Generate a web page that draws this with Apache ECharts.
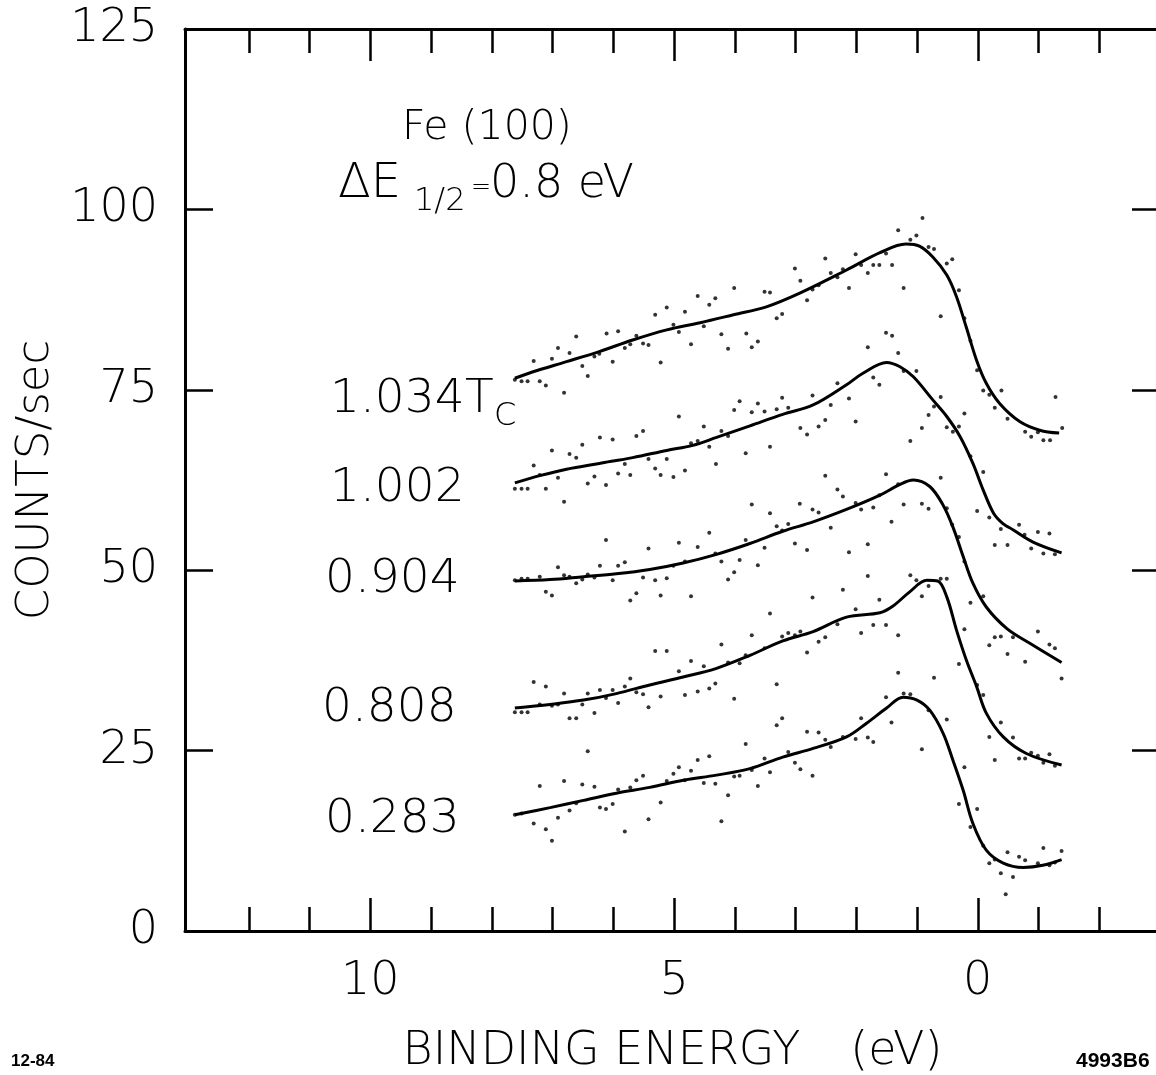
<!DOCTYPE html>
<html>
<head>
<meta charset="utf-8">
<script src="https://cdn.jsdelivr.net/npm/echarts@6/dist/echarts.min.js"></script>
<style>
  html, body { margin: 0; padding: 0; background: #fff; }
  #chart { width: 1156px; height: 1075px; }
</style>
</head>
<body>
<div id="chart"></div>
<script>
// binding energy ticks (eV)
var energyTicks = [-3, -2, -1, 0, 1, 2, 3, 4, 5, 6, 7, 8, 9, 10, 11, 12];
var energyMajor = [0, 5, 10];

// fitted curves [binding energy (eV), counts/sec]
var fit1034 = [[7.62,76.6],[7.32,77.5],[6.77,78.9],[6.23,80.3],[5.68,81.9],[5.12,83.3],[4.57,84.3],[4.02,85.4],[3.48,86.5],[2.93,88.4],[2.16,91.6],[1.61,94.0],[1.18,95.2],[0.96,94.9],[0.74,93.4],[0.51,90.9],[0.35,87.9],[0.19,83.7],[0.02,79.1],[-0.14,75.9],[-0.36,73.1],[-0.69,70.6],[-1.02,69.4],[-1.34,69.0]];
var fit1002 = [[7.62,62.1],[7.21,63.1],[6.77,64.0],[6.23,64.8],[5.68,65.6],[5.12,66.6],[4.69,67.3],[4.30,68.4],[3.75,70.0],[3.21,71.6],[2.71,72.9],[2.16,75.7],[1.89,77.3],[1.50,78.8],[1.28,78.2],[1.06,76.8],[0.74,73.6],[0.51,71.3],[0.29,68.5],[0.08,64.8],[-0.09,61.1],[-0.26,57.9],[-0.41,56.5],[-0.58,55.6],[-0.91,53.9],[-1.38,52.4]];
var fit0904 = [[7.62,48.5],[7.04,48.7],[6.49,49.1],[5.95,49.5],[5.40,50.1],[4.85,51.0],[4.30,52.2],[3.75,53.7],[3.21,55.4],[2.71,56.7],[2.11,58.6],[1.61,60.4],[1.28,61.9],[1.06,62.5],[0.79,61.6],[0.57,59.0],[0.41,56.0],[0.24,51.9],[0.08,48.2],[-0.14,44.9],[-0.48,41.9],[-0.85,39.9],[-1.38,37.2]];
var fit0808 = [[7.62,30.9],[7.04,31.4],[6.49,32.0],[5.95,32.9],[5.40,34.1],[4.85,35.2],[4.30,36.4],[3.75,38.2],[3.21,40.2],[2.71,41.5],[2.16,43.5],[1.61,44.1],[1.40,45.0],[1.12,47.0],[0.84,48.6],[0.66,48.5],[0.51,46.3],[0.35,41.7],[0.19,37.6],[0.02,33.9],[-0.14,30.2],[-0.42,26.9],[-0.80,24.6],[-1.38,23.0]];
var fit0283 = [[7.62,16.1],[7.04,17.1],[6.49,18.1],[5.95,19.1],[5.40,19.9],[4.85,20.9],[4.30,21.6],[3.75,22.5],[3.21,24.1],[2.71,25.3],[2.16,26.9],[1.83,28.8],[1.50,30.9],[1.23,32.4],[1.00,32.0],[0.79,30.6],[0.57,27.4],[0.41,23.7],[0.24,19.5],[0.08,14.9],[-0.14,11.2],[-0.42,9.4],[-0.75,8.8],[-1.07,9.1],[-1.38,9.9]];

// measured points
var dots1034 = [[3.01,91.8],[7.62,76.4],[7.51,76.2],[7.41,76.2],[7.31,79.0],[7.21,76.2],[7.11,75.6],[7.01,79.3],[6.91,80.8],[6.81,74.6],[6.72,80.1],[6.61,82.4],[6.51,78.3],[6.42,76.9],[6.31,79.6],[6.23,80.0],[6.11,82.8],[6.01,78.9],[5.92,83.1],[5.81,80.8],[5.72,81.3],[5.62,82.5],[5.51,81.4],[5.42,81.2],[5.31,85.4],[5.22,78.8],[5.12,86.4],[5.01,84.0],[4.92,83.0],[4.82,85.8],[4.72,81.3],[4.61,88.0],[4.51,83.8],[4.42,86.8],[4.32,87.7],[4.22,82.7],[4.11,80.7],[4.01,89.1],[3.81,82.8],[3.72,80.9],[3.62,81.7],[3.51,88.6],[3.42,88.5],[3.31,84.9],[3.22,85.5],[2.92,90.1],[2.81,87.4],[2.72,88.9],[2.62,89.5],[2.51,93.2],[2.42,91.2],[2.31,90.6],[2.22,91.7],[2.12,89.1],[2.01,93.8],[1.92,92.3],[1.81,91.2],[1.72,92.3],[1.62,92.3],[1.51,93.9],[1.41,92.3],[1.31,97.1],[1.22,89.1],[1.11,95.8],[1.01,96.4],[0.91,98.8],[0.81,94.8],[0.72,94.5],[0.61,85.2],[0.51,92.5],[0.42,93.1],[0.31,88.8],[0.22,84.9],[0.12,81.8],[0.01,77.7],[-0.09,74.9],[-0.19,74.3],[-0.28,72.5],[-0.39,74.9],[-0.49,71.0],[-0.78,69.2],[-0.88,68.5],[-0.99,69.1],[-1.08,68.0],[-1.19,68.0],[-1.28,74.0],[-1.39,69.7]];
var dots1002 = [[7.62,61.3],[7.51,61.3],[7.41,61.3],[7.31,64.5],[7.21,63.2],[7.11,61.3],[7.01,66.6],[6.91,62.8],[6.81,59.5],[6.72,66.1],[6.61,65.6],[6.51,67.4],[6.42,62.0],[6.31,63.0],[6.22,68.4],[6.12,61.8],[6.01,68.1],[5.92,63.4],[5.81,64.7],[5.72,63.2],[5.62,68.6],[5.51,69.3],[5.42,65.4],[5.31,64.1],[5.22,63.2],[5.12,65.4],[5.01,62.9],[4.92,71.3],[4.82,63.8],[4.72,67.6],[4.61,67.9],[4.51,69.9],[4.42,67.1],[4.31,64.7],[4.22,69.3],[4.11,68.6],[4.01,72.2],[3.92,73.4],[3.82,66.2],[3.72,71.9],[3.62,73.1],[3.51,72.0],[3.42,67.1],[3.31,72.3],[3.22,73.9],[3.12,72.5],[2.92,69.7],[2.81,68.8],[2.72,74.2],[2.62,69.9],[2.51,70.8],[2.42,72.9],[2.31,75.9],[2.12,73.8],[2.01,70.6],[1.81,80.9],[1.72,76.7],[1.62,75.7],[1.51,82.9],[1.41,82.5],[1.31,80.1],[1.22,77.6],[1.11,67.9],[1.01,77.6],[0.92,69.7],[0.81,71.5],[0.72,72.7],[0.61,74.0],[0.51,69.8],[0.41,69.2],[0.31,69.9],[0.22,71.7],[0.12,65.8],[0.01,58.2],[-0.09,63.6],[-0.19,57.3],[-0.28,53.5],[-0.38,55.7],[-0.49,53.5],[-0.68,56.3],[-0.77,54.9],[-0.88,53.0],[-0.99,55.3],[-1.08,52.3],[-1.18,55.1],[-1.27,52.2]];
var dots0904 = [[7.62,48.6],[7.51,48.8],[7.41,48.8],[7.21,49.1],[7.11,47.0],[7.01,46.5],[6.91,50.4],[6.81,49.3],[6.72,49.1],[6.61,48.2],[6.51,48.7],[6.42,49.4],[6.31,49.0],[6.22,50.6],[6.12,54.2],[6.01,48.6],[5.92,50.6],[5.81,51.1],[5.72,45.8],[5.62,46.8],[5.51,49.0],[5.42,53.0],[5.31,48.6],[5.22,46.5],[5.12,48.9],[5.01,50.6],[4.92,53.8],[4.82,51.2],[4.72,46.4],[4.61,53.2],[4.42,55.2],[4.32,52.3],[4.22,51.2],[4.11,48.7],[4.01,49.7],[3.92,51.4],[3.82,54.2],[3.72,59.1],[3.62,50.7],[3.51,53.1],[3.42,57.9],[3.31,56.1],[3.22,55.5],[3.12,56.4],[3.01,53.7],[2.93,59.2],[2.81,52.8],[2.72,58.4],[2.62,58.0],[2.51,63.1],[2.42,55.9],[2.31,61.2],[2.22,60.2],[2.12,52.5],[2.01,59.3],[1.92,58.4],[1.81,53.6],[1.72,58.7],[1.62,60.4],[1.51,63.3],[1.42,56.7],[1.31,61.9],[1.22,59.1],[0.92,59.2],[0.81,58.5],[0.61,62.8],[0.51,58.6],[0.42,56.3],[0.31,54.6],[0.22,51.2],[0.12,45.5],[-0.09,46.4],[-0.19,39.6],[-0.28,40.7],[-0.38,40.8],[-0.49,38.4],[-0.58,40.7],[-0.78,37.3],[-0.99,41.5],[-1.18,39.7],[-1.27,39.2],[-1.38,35.0]];
var dots0808 = [[7.62,30.3],[7.51,30.3],[7.41,30.3],[7.31,34.5],[7.21,31.4],[7.11,33.9],[7.01,31.2],[6.91,31.4],[6.81,32.9],[6.72,29.5],[6.61,29.5],[6.51,31.4],[6.42,32.9],[6.31,30.2],[6.22,33.4],[6.12,32.3],[6.01,33.4],[5.92,31.6],[5.81,33.9],[5.72,35.0],[5.62,33.1],[5.51,32.8],[5.42,31.0],[5.31,38.8],[5.22,32.5],[5.12,38.8],[4.92,36.0],[4.82,32.7],[4.72,37.4],[4.61,33.2],[4.51,36.7],[4.42,33.6],[4.32,34.3],[4.22,39.7],[4.11,37.2],[4.01,32.2],[3.92,37.1],[3.82,38.2],[3.72,41.0],[3.51,39.2],[3.42,44.0],[3.31,34.2],[3.22,40.8],[3.12,41.3],[3.01,41.0],[2.92,41.5],[2.81,38.6],[2.72,46.2],[2.62,40.1],[2.51,40.7],[2.31,42.5],[2.22,47.3],[2.01,44.6],[1.92,41.3],[1.81,49.2],[1.72,42.4],[1.62,45.9],[1.51,42.4],[1.31,41.0],[1.31,35.8],[1.11,49.3],[1.01,48.6],[0.92,46.4],[0.81,47.8],[0.72,35.1],[0.61,48.8],[0.51,48.8],[0.31,37.0],[0.22,41.8],[0.01,34.1],[-0.09,32.7],[-0.19,26.9],[-0.28,23.7],[-0.38,28.9],[-0.58,26.8],[-0.68,23.9],[-0.78,23.9],[-0.88,24.7],[-0.99,24.3],[-1.08,23.3],[-1.18,24.5],[-1.27,22.9]];
var dots0283 = [[7.62,16.1],[7.51,16.3],[7.31,14.9],[7.21,20.1],[7.11,14.1],[7.01,12.5],[6.91,15.7],[6.81,20.8],[6.72,16.7],[6.61,17.7],[6.51,20.3],[6.42,24.9],[6.31,20.0],[6.22,17.1],[6.12,16.9],[6.01,17.6],[5.92,19.6],[5.81,13.8],[5.72,19.9],[5.62,20.9],[5.51,21.5],[5.42,15.5],[5.22,17.8],[5.12,20.8],[5.01,21.8],[4.92,22.7],[4.82,20.9],[4.72,22.2],[4.61,23.7],[4.51,20.5],[4.42,24.2],[4.32,20.4],[4.22,15.2],[4.11,18.8],[4.01,21.4],[3.92,21.5],[3.82,25.9],[3.72,22.3],[3.62,20.1],[3.51,23.9],[3.42,22.0],[3.31,28.5],[3.22,29.5],[3.12,24.8],[3.01,23.3],[2.92,22.4],[2.81,27.6],[2.72,21.5],[2.62,27.5],[2.51,26.5],[2.42,25.5],[2.22,26.9],[2.01,26.6],[1.92,29.5],[1.81,26.8],[1.72,26.2],[1.51,32.4],[1.42,28.9],[1.22,32.9],[1.11,32.8],[0.92,25.2],[0.81,30.6],[0.51,29.3],[0.31,17.6],[0.22,22.7],[0.12,14.4],[0.01,16.9],[-0.09,11.8],[-0.19,9.4],[-0.28,9.9],[-0.38,8.0],[-0.46,5.1],[-0.49,10.9],[-0.58,7.5],[-0.68,10.3],[-0.78,9.8],[-0.99,9.4],[-1.08,11.5],[-1.18,9.1],[-1.27,9.5],[-1.38,11.1]];

var FONT = "'DejaVu Sans', sans-serif";
var LIGHT = 200;
var E_MIN = -3.0, E_MAX = 13.05;

function curve(data) {
    return {
        type: 'line', data: data, xAxisIndex: 0, yAxisIndex: 0,
        smooth: 0.35, symbol: 'none', z: 3,
        lineStyle: { color: '#000', width: 3 }
    };
}
function dots(data) {
    return {
        type: 'scatter', data: data, xAxisIndex: 0, yAxisIndex: 0,
        symbol: 'circle', symbolSize: 4, z: 2,
        itemStyle: { color: '#000' }
    };
}
function label(txt, x, y, size) {
    return {
        type: 'text', x: x, y: y, z: 10,
        style: { text: txt, fill: '#000', fontSize: size, fontFamily: FONT, fontWeight: LIGHT, verticalAlign: 'middle' }
    };
}
// frame axis with tick marks only
function tickAxis(pos, len, values, showLine) {
    return {
        type: 'value', position: pos, inverse: true, min: E_MIN, max: E_MAX,
        axisLine: { show: showLine, onZero: false, lineStyle: { color: '#000', width: 3 } },
        axisTick: { inside: true, length: len, customValues: values, lineStyle: { color: '#000', width: 2.5 } },
        axisLabel: { show: false }, splitLine: { show: false }
    };
}

var myChart = echarts.init(document.getElementById('chart'));
var axisLine = { show: true, onZero: false, lineStyle: { color: '#000', width: 3 } };

var option = {
    animation: false,
    backgroundColor: '#fff',
    grid: { left: 185, top: 29, right: -4, bottom: 144, outerBoundsMode: 'none' },
    xAxis: [{
        type: 'value', position: 'bottom', inverse: true, min: E_MIN, max: E_MAX,
        axisLine: axisLine,
        axisTick: { inside: true, length: 24, customValues: energyTicks, lineStyle: { color: '#000', width: 2.5 } },
        axisLabel: { customValues: energyMajor, fontSize: 46, margin: 28, color: '#000', fontFamily: FONT, fontWeight: LIGHT },
        splitLine: { show: false },
        name: '{a|BINDING ENERGY}{g|}{a|(eV)}',
        nameLocation: 'middle', nameGap: 98,
        nameTextStyle: {
            rich: {
                a: { fontSize: 46, fontFamily: FONT, fontWeight: LIGHT, color: '#000' },
                g: { width: 50 }
            }
        }
    },
        tickAxis('bottom', 33, energyMajor, false),
        tickAxis('top', 24, energyTicks, true),
        tickAxis('top', 32, energyMajor, false)
    ],
    yAxis: [{
        type: 'value', position: 'left', min: 0, max: 125, interval: 25,
        axisLine: axisLine,
        axisTick: { inside: true, length: 28, lineStyle: { color: '#000', width: 2.5 } },
        axisLabel: { fontSize: 46, margin: 27, color: '#000', fontFamily: FONT, fontWeight: LIGHT },
        splitLine: { show: false },
        name: 'COUNTS/sec', nameLocation: 'middle', nameGap: 122,
        nameTextStyle: { fontSize: 45, fontFamily: FONT, fontWeight: LIGHT, color: '#000' }
    }, {
        type: 'value', position: 'right', min: 0, max: 125, interval: 25,
        axisLine: axisLine,
        axisTick: { inside: true, length: 28, lineStyle: { color: '#000', width: 2.5 } },
        axisLabel: { show: false }, splitLine: { show: false }
    }],
    graphic: [
        label('Fe (100)', 402, 128, 41),
        label('\u0394E', 338, 185, 48),
        label('1/2', 414, 202, 32),
        label('=', 471, 188, 24),
        label('0.8 eV', 490, 185, 46),
        label('1.034', 330, 400, 47),
        label('T', 465, 400, 47),
        label('C', 494, 417, 32),
        label('1.002', 330, 489, 47),
        label('0.904', 325, 580, 47),
        label('0.808', 322, 709, 47),
        label('0.283', 325, 820, 47),
        { type: 'text', x: 11, y: 1061, style: { text: '12-84', fill: '#000', fontSize: 17, fontWeight: 'bold', fontFamily: "'Liberation Sans', sans-serif", verticalAlign: 'middle' } },
        { type: 'text', x: 1076, y: 1061, style: { text: '4993B6', fill: '#000', fontSize: 21, fontWeight: 'bold', fontFamily: "'Liberation Sans', sans-serif", verticalAlign: 'middle' } }
    ],
    series: [
        dots(dots1034), dots(dots1002), dots(dots0904), dots(dots0808), dots(dots0283),
        curve(fit1034), curve(fit1002), curve(fit0904), curve(fit0808), curve(fit0283)
    ]
};
myChart.setOption(option);
</script>
</body>
</html>
